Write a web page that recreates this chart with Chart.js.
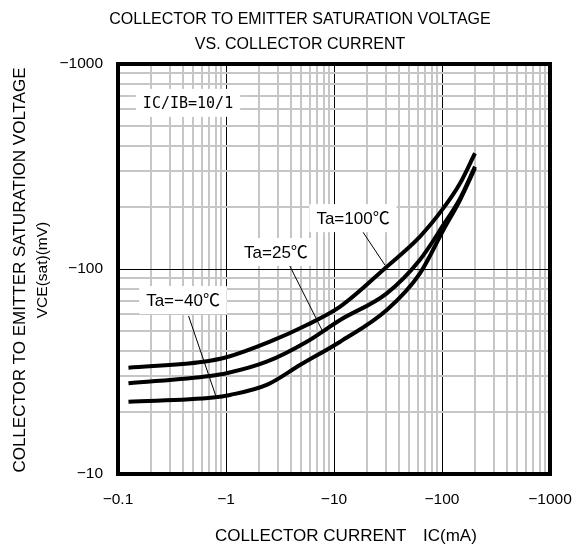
<!DOCTYPE html>
<html>
<head>
<meta charset="utf-8">
<script src="https://cdn.jsdelivr.net/npm/chart.js@4/dist/chart.umd.min.js"></script>
<style>
  html, body { margin: 0; padding: 0; background: #fff; }
  #wrap { width: 582px; height: 546px; }
</style>
</head>
<body>
<div id="wrap"><canvas id="vceChart" width="582" height="546"></canvas></div>
<script>
// collector current |IC| (mA) and |VCE(sat)| (mV)
const ic_100 = [0.125, 0.62, 1.01, 2.55, 5.6, 11.4, 30.8, 62.5, 103, 147, 202];
const vce_100 = [33.0, 35.3, 37.1, 44.2, 53.3, 65.5, 102.6, 144, 198, 262, 367];

const ic_25 = [0.125, 0.71, 1.01, 2.38, 5.6, 11.4, 30.8, 62.5, 103, 147, 202];
const vce_25 = [27.7, 30.1, 31.0, 35.3, 44.2, 56.4, 76.1, 111, 164, 221, 316];

const ic_m40 = [0.125, 0.76, 1.09, 2.38, 4.84, 11.4, 30.8, 62.5, 103, 147, 202];
const vce_m40 = [22.5, 23.6, 24.3, 27.2, 34.0, 44.2, 63.1, 95.3, 155, 217, 310];

const x_range = [0.1, 1000];
const y_range = [10, 1000];

// labels: text, centre (IC, VCE), leader line from -> to
const notes = [
    { text: 'Ta=100℃', at: [15.0, 177], from: [18.6, 151], to: [29.6, 104.6] },
    { text: 'Ta=25℃', at: [2.9, 121], from: [3.9, 103.4], to: [7.9, 49.3] },
    { text: 'Ta=−40℃', at: [0.40, 70.6], from: [0.45, 59], to: [0.81, 23.8] },
    { text: 'IC/IB=10/1', at: [0.445, 646], mono: true }
];

const FONT = '"Liberation Sans", Arial, "Noto Sans CJK JP", sans-serif';
const MONO = '"DejaVu Sans Mono", monospace';

function isDecade(v) {
    const l = Math.log10(v);
    return Math.abs(l - Math.round(l)) < 1e-9;
}

function logTicks(min, max) {
    const out = [];
    for (let e = Math.round(Math.log10(min)); e < Math.round(Math.log10(max)); e++) {
        for (let m = 1; m < 10; m++) out.push({ value: m * Math.pow(10, e) });
    }
    out.push({ value: max });
    return out;
}

function toSeries(xs, ys) {
    return xs.map((x, i) => ({ x: x, y: ys[i] }));
}

const curveStyle = {
    borderColor: '#000',
    borderWidth: 4,
    pointRadius: 0,
    fill: false,
    cubicInterpolationMode: 'monotone'
};

const textPlugin = {
    id: 'textPlugin',
    beforeDatasetsDraw(chart) {
        const { ctx, scales: { x, y } } = chart;
        ctx.save();
        ctx.textAlign = 'center';
        ctx.textBaseline = 'middle';
        notes.forEach(n => {
            ctx.font = n.mono ? '15px ' + MONO : '17px ' + FONT;
            const cx = x.getPixelForValue(n.at[0]);
            const cy = y.getPixelForValue(n.at[1]);
            const w = ctx.measureText(n.text).width + 14;
            ctx.fillStyle = '#fff';
            ctx.fillRect(cx - w / 2, cy - 14, w, 28);
            ctx.fillStyle = '#000';
            ctx.fillText(n.text, cx, cy + 1);
            if (n.from) {
                ctx.beginPath();
                ctx.lineWidth = 1;
                ctx.strokeStyle = '#000';
                ctx.moveTo(x.getPixelForValue(n.from[0]), y.getPixelForValue(n.from[1]));
                ctx.lineTo(x.getPixelForValue(n.to[0]), y.getPixelForValue(n.to[1]));
                ctx.stroke();
            }
        });
        ctx.restore();
    },
    afterDraw(chart) {
        const { ctx, chartArea: a } = chart;
        ctx.save();
        // frame
        ctx.lineWidth = 4;
        ctx.strokeStyle = '#000';
        ctx.strokeRect(a.left, a.top, a.right - a.left, a.bottom - a.top);
        // titles
        ctx.fillStyle = '#000';
        ctx.textAlign = 'center';
        ctx.textBaseline = 'middle';
        ctx.font = '16px ' + FONT;
        ctx.fillText('COLLECTOR TO EMITTER SATURATION VOLTAGE', 300, 20);
        ctx.fillText('VS. COLLECTOR CURRENT', 300, 45);
        ctx.textAlign = 'left';
        ctx.font = '17px ' + FONT;
        ctx.fillText('COLLECTOR CURRENT', 215, 536);
        ctx.fillText('IC(mA)', 423, 536);
        ctx.textAlign = 'center';
        ctx.translate(20, 270);
        ctx.rotate(-Math.PI / 2);
        ctx.font = '17px ' + FONT;
        ctx.fillText('COLLECTOR TO EMITTER SATURATION VOLTAGE', 0, 0);
        ctx.font = '15.5px ' + FONT;
        ctx.fillText('VCE(sat)(mV)', 0, 23);
        ctx.restore();
    }
};

const gridOpts = {
    color: c => (c.tick && isDecade(c.tick.value)) ? '#000' : '#c6c6c6',
    lineWidth: c => (c.tick && isDecade(c.tick.value)) ? 1 : 2,
    drawTicks: false
};

new Chart(document.getElementById('vceChart'), {
    type: 'line',
    data: {
        datasets: [
            Object.assign({ label: 'Ta=100℃', data: toSeries(ic_100, vce_100) }, curveStyle),
            Object.assign({ label: 'Ta=25℃', data: toSeries(ic_25, vce_25) }, curveStyle),
            Object.assign({ label: 'Ta=−40℃', data: toSeries(ic_m40, vce_m40) }, curveStyle)
        ]
    },
    options: {
        responsive: false,
        animation: false,
        layout: { padding: { left: 0, top: 64, right: 32, bottom: 0 } },
        plugins: { legend: { display: false }, tooltip: { enabled: false } },
        scales: {
            x: {
                type: 'logarithmic',
                min: x_range[0],
                max: x_range[1],
                afterBuildTicks: s => { s.ticks = logTicks(x_range[0], x_range[1]); },
                afterFit: s => { s.height = 72; s.paddingLeft = 0; s.paddingRight = 0; },
                grid: gridOpts,
                border: { display: false },
                ticks: {
                    autoSkip: false,
                    maxRotation: 0,
                    padding: 16,
                    color: '#000',
                    font: { family: FONT, size: 15.5 },
                    callback: v => isDecade(v) ? '−' + v : ''
                }
            },
            y: {
                type: 'logarithmic',
                min: y_range[0],
                max: y_range[1],
                afterBuildTicks: s => { s.ticks = logTicks(y_range[0], y_range[1]); },
                afterFit: s => { s.width = 118; s.paddingTop = 0; s.paddingBottom = 0; },
                grid: gridOpts,
                border: { display: false },
                ticks: {
                    autoSkip: false,
                    padding: 15,
                    color: '#000',
                    font: { family: FONT, size: 15.5 },
                    callback: v => isDecade(v) ? '−' + v : ''
                }
            }
        }
    },
    plugins: [textPlugin]
});
</script>
</body>
</html>
